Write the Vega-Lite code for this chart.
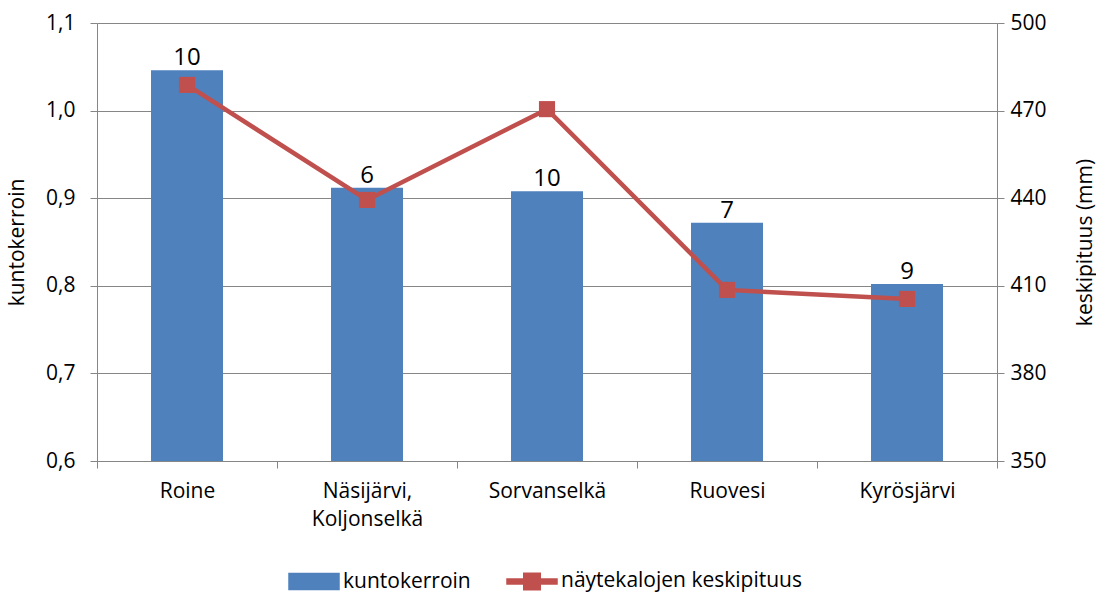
{
  "$schema": "https://vega.github.io/schema/vega-lite/v6.json",
  "width": 900,
  "height": 438,
  "autosize": {"type": "none"},
  "padding": {"left": 97, "top": 23, "right": 99, "bottom": 131},
  "background": "white",
  "config": {
    "view": {"stroke": null},
    "font": "Open Sans",
    "axis": {"labelFont": "Open Sans", "titleFont": "Open Sans", "labelColor": "#000", "titleColor": "#000", "domainColor": "#868686", "tickColor": "#868686", "gridColor": "#868686", "labelFontSize": 21, "titleFontSize": 21, "titleFontWeight": "normal"}
  },
  "data": {
    "values": [
      {"alue": "Roine", "kuntokerroin": 1.046, "pituus": 478.8, "n": 10},
      {"alue": "Näsijärvi, Koljonselkä", "kuntokerroin": 0.912, "pituus": 439.4, "n": 6},
      {"alue": "Sorvanselkä", "kuntokerroin": 0.908, "pituus": 470.5, "n": 10},
      {"alue": "Ruovesi", "kuntokerroin": 0.872, "pituus": 408.6, "n": 7},
      {"alue": "Kyrösjärvi", "kuntokerroin": 0.802, "pituus": 405.5, "n": 9}
    ]
  },
  "encoding": {
    "x": {
      "field": "alue", "type": "nominal", "sort": null,
      "scale": {"paddingInner": 0, "paddingOuter": 0},
      "axis": {
        "title": null, "labelAngle": 0, "tickBand": "extent", "tickSize": 7,
        "labelFont": "Open Sans", "labelFontSize": 21, "labelColor": "#000",
        "labelPadding": 12, "labelLineHeight": 28, "labelBaseline": "top",
        "labelExpr": "datum.label == 'Näsijärvi, Koljonselkä' ? ['Näsijärvi,', 'Koljonselkä'] : datum.label"
      }
    }
  },
  "layer": [
    {
      "encoding": {
        "y": {
          "field": "kuntokerroin", "type": "quantitative",
          "scale": {"domain": [0.6, 1.1], "zero": false, "nice": false},
          "axis": {
            "title": "kuntokerroin", "values": [0.6, 0.7, 0.8, 0.9, 1.0, 1.1], "grid": true,
            "tickSize": 7, "labelPadding": 15, "labelFontSize": 21, "titleFontSize": 21,
            "labelExpr": "replace(format(datum.value, '.1f'), '.', ',')",
            "titleX": -80, "titleY": 219, "titleAngle": 270, "titleAlign": "center", "titleBaseline": "middle"
          }
        }
      },
      "layer": [
        {
          "mark": {"type": "bar", "width": {"band": 0.4}},
          "encoding": {
            "y2": {"datum": 0.6},
            "color": {"datum": "kuntokerroin", "type": "nominal",
              "scale": {"domain": ["kuntokerroin", "näytekalojen keskipituus"], "range": ["#4F81BD", "#C0504D"]},
              "legend": {
                "title": null, "orient": "none", "direction": "horizontal", "legendX": 191, "legendY": 532,
                "labelFont": "Open Sans", "labelFontSize": 21, "labelColor": "#000", "labelLimit": 400, "symbolSize": 2500,
                "columnPadding": 33, "labelOffset": 3,
                "encode": {
                  "symbols": {
                    "update": {
                      "shape": {"signal": "datum.value == 'kuntokerroin' ? 'M-1,-0.32H1V0.32H-1Z' : 'M-1,-0.1H1V0.1H-1Z M-0.33,-0.33H0.33V0.33H-0.33Z'"},
                      "fill": {"signal": "datum.value == 'kuntokerroin' ? '#4F81BD' : '#C0504D'"},
                      "stroke": {"value": "transparent"},
                      "opacity": {"value": 1},
                      "fillOpacity": {"value": 1}
                    }
                  }
                }
              }
            }
          }
        },
        {
          "mark": {"type": "text", "baseline": "alphabetic", "dy": -5, "fontSize": 24, "font": "Open Sans", "color": "#000"},
          "encoding": {"text": {"field": "n", "type": "quantitative"}}
        }
      ]
    },
    {
      "mark": {"type": "line", "strokeWidth": 4.5, "point": {"shape": "square", "size": 260, "filled": true, "opacity": 1}},
      "encoding": {
        "y": {
          "field": "pituus", "type": "quantitative",
          "scale": {"domain": [350, 500], "zero": false, "nice": false},
          "axis": {
            "orient": "right", "title": "keskipituus (mm)", "values": [350, 380, 410, 440, 470, 500], "grid": false,
            "tickSize": 7, "labelPadding": 6, "labelFontSize": 21, "titleFontSize": 21,
            "titleX": 88, "titleY": 219, "titleAngle": 270, "titleAlign": "center", "titleBaseline": "middle"
          }
        },
        "color": {"datum": "näytekalojen keskipituus", "type": "nominal"}
      }
    }
  ],
  "resolve": {"scale": {"y": "independent"}}
}
